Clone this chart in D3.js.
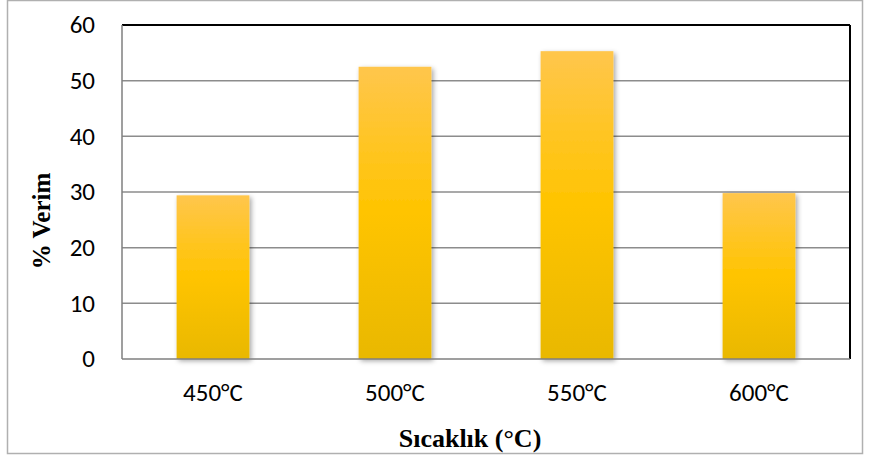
<!DOCTYPE html>
<html>
<head>
<meta charset="utf-8">
<script src="https://cdn.jsdelivr.net/npm/d3@7"></script>
<style>
  body { margin: 0; background: #fff; }
  svg { display: block; }
</style>
</head>
<body>
<div id="chart"></div>
<script>
const categories = ["450°C", "500°C", "550°C", "600°C"];
const yields = [29.4, 52.5, 55.3, 29.8];
const yTicks = [0, 10, 20, 30, 40, 50, 60];

const W = 869, H = 456;
const margin = { top: 25, right: 19, bottom: 97, left: 122 };
const width = W - margin.left - margin.right,
  height = H - margin.top - margin.bottom;

const svg = d3.select("#chart").append("svg")
  .attr("width", W)
  .attr("height", H);

// outer frame
svg.append("rect")
  .attr("x", 7.5).attr("y", 0.5)
  .attr("width", 855).attr("height", 453)
  .attr("fill", "#fff")
  .attr("stroke", "#b0b0b0")
  .attr("stroke-width", 1.5);

const defs = svg.append("defs");
const grad = defs.append("linearGradient")
  .attr("id", "barGrad")
  .attr("x1", 0).attr("y1", 0).attr("x2", 0).attr("y2", 1);
grad.append("stop").attr("offset", "0%").attr("stop-color", "#ffc64c");
grad.append("stop").attr("offset", "50%").attr("stop-color", "#ffc400");
grad.append("stop").attr("offset", "100%").attr("stop-color", "#e9b800");

const shadow = defs.append("filter")
  .attr("id", "shadow")
  .attr("x", "-20%").attr("y", "-10%")
  .attr("width", "150%").attr("height", "130%");
shadow.append("feDropShadow")
  .attr("dx", 2).attr("dy", 2)
  .attr("stdDeviation", 2.5)
  .attr("flood-color", "#000")
  .attr("flood-opacity", 0.35);

const g = svg.append("g")
  .attr("transform", `translate(${margin.left},${margin.top})`);

const x = d3.scaleBand().domain(categories).range([0, width]).paddingInner(0.6).paddingOuter(0.3);
const y = d3.scaleLinear().domain([0, 60]).range([height, 0]);

// gridlines
g.selectAll(".grid")
  .data(yTicks.filter(t => t > 0 && t < 60))
  .join("line")
  .attr("class", "grid")
  .attr("x1", 0).attr("x2", width)
  .attr("y1", d => y(d)).attr("y2", d => y(d))
  .attr("stroke", "#8c8c8c")
  .attr("stroke-width", 1.5);

// bars
g.selectAll(".bar")
  .data(yields)
  .join("rect")
  .attr("class", "bar")
  .attr("x", (d, i) => x(categories[i]))
  .attr("y", d => y(d))
  .attr("width", x.bandwidth())
  .attr("height", d => height - y(d))
  .attr("fill", "url(#barGrad)")
  .attr("filter", "url(#shadow)");

// plot border: top/right black, left/bottom gray
g.append("line").attr("x1", 0).attr("x2", width).attr("y1", 0).attr("y2", 0)
  .attr("stroke", "#000").attr("stroke-width", 2);
g.append("line").attr("x1", width).attr("x2", width).attr("y1", 0).attr("y2", height)
  .attr("stroke", "#000").attr("stroke-width", 2);
g.append("line").attr("x1", 0).attr("x2", 0).attr("y1", 0).attr("y2", height)
  .attr("stroke", "#7f7f7f").attr("stroke-width", 1.5);
g.append("line").attr("x1", 0).attr("x2", width).attr("y1", height).attr("y2", height)
  .attr("stroke", "#7f7f7f").attr("stroke-width", 1.5);

const sans = "Carlito, 'Liberation Sans', 'DejaVu Sans', sans-serif";
const serif = "'Liberation Serif', 'DejaVu Serif', serif";

// y tick labels
g.selectAll(".ylab")
  .data(yTicks)
  .join("text")
  .attr("class", "ylab")
  .attr("x", -27)
  .attr("y", d => y(d))
  .attr("dy", "0.33em")
  .attr("text-anchor", "end")
  .style("font-family", sans)
  .style("font-size", "25px")
  .attr("fill", "#000")
  .text(d => d);

// x tick labels
g.selectAll(".xlab")
  .data(categories)
  .join("text")
  .attr("class", "xlab")
  .attr("x", d => x(d) + x.bandwidth() / 2)
  .attr("y", height + 34)
  .attr("dy", "0.33em")
  .attr("text-anchor", "middle")
  .style("font-family", sans)
  .style("font-size", "25px")
  .attr("fill", "#000")
  .text(d => d);

// axis titles
svg.append("text")
  .attr("x", 470)
  .attr("y", 438)
  .attr("dy", "0.33em")
  .attr("text-anchor", "middle")
  .style("font-family", serif)
  .style("font-size", "26px")
  .style("font-weight", "bold")
  .text("Sıcaklık (°C)");

svg.append("text")
  .attr("transform", "translate(42,221) rotate(-90)")
  .attr("dy", "0.33em")
  .attr("text-anchor", "middle")
  .style("font-family", serif)
  .style("font-size", "25px")
  .style("font-weight", "bold")
  .text("% Verim");
</script>
</body>
</html>
